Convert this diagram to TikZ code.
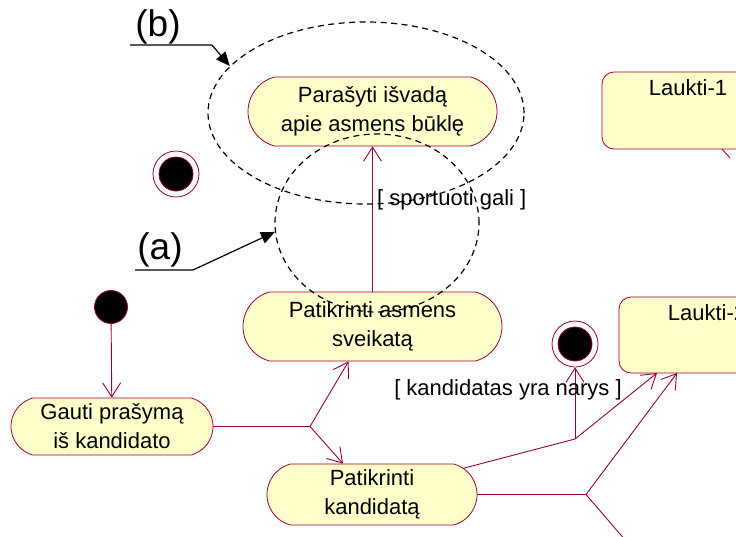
\documentclass[tikz,border=0pt]{standalone}
\usepackage{fontspec}
\setmainfont{Liberation Sans}
\usetikzlibrary{shapes.misc,shapes.geometric,arrows.meta}
\definecolor{rose}{RGB}{153,0,51}
\definecolor{actfill}{RGB}{255,255,204}

\begin{document}
\begin{tikzpicture}[x=1pt,y=-1pt,
  activity/.style={rounded rectangle, rounded rectangle arc length=150,
    draw=rose, fill=actfill, line width=0.8pt, align=center, inner sep=0pt,
    font=\fontsize{22}{29}\selectfont},
  waitbox/.style={draw=rose, fill=actfill, rounded corners=12pt, line width=0.8pt},
  startdot/.style={circle, draw=rose, fill=black, line width=0.8pt, inner sep=0pt, minimum size=33pt},
  endring/.style={circle, draw=rose, fill=white, line width=0.8pt, inner sep=0pt, minimum size=46pt},
  enddot/.style={circle, draw=rose, fill=black, line width=0.8pt, inner sep=0pt, minimum size=34pt},
  flow/.style={draw=rose, line width=0.9pt},
  flowarrow/.style={flow, -{Straight Barb[length=14pt,width=18pt]}},
  guard/.style={font=\fontsize{22}{26}\selectfont, inner sep=0pt},
  waitlabel/.style={font=\fontsize{22}{26}\selectfont, inner sep=0pt},
  zone/.style={ellipse, draw=black, dash pattern=on 6pt off 4.5pt, line width=1.2pt, inner sep=0pt},
  callout/.style={draw=black, line width=1.2pt, -{Triangle[length=14pt,width=12pt]}},
  tag/.style={font=\fontsize{37}{40}\selectfont, inner sep=0pt},
]
\clip (0,0) rectangle (736,536);
\fill[white] (0,0) rectangle (736,536);

% waiting states at the right edge
\draw[waitbox] (602,72) rectangle (775,149);
\node[waitlabel] (l1) at (688,88) {Laukti-1};
\coordinate (l1sw) at (602,149);
\draw[waitbox] (619,297) rectangle (795,373);
\node[waitlabel] (l2) at (707,313) {Laukti-2};
\coordinate (l2sw) at (619,373);

% activities
\node[activity, minimum width=249pt, minimum height=69pt] (p1) at (372.5,111.5)
  {Parašyti išvadą\\apie asmens būklę};
\node[activity, minimum width=259pt, minimum height=69pt] (p2) at (372.5,326.5)
  {Patikrinti asmens\\sveikatą};
\node[activity, minimum width=202pt, minimum height=57pt] (gauti) at (112,426.5)
  {Gauti prašymą\\iš kandidato};
\node[activity, minimum width=210pt, minimum height=61pt] (kand) at (372,494.5)
  {Patikrinti\\kandidatą};

% start and end states
\node[startdot] (init) at (111,307) {};
\node[endring] (fin1) at (176,174) {};
\node[enddot] at (fin1) {};
\node[endring] (fin2) at (575,344) {};
\node[enddot] at (fin2) {};

% junction points of the forks
\coordinate (j1) at (310,426.5);
\coordinate (j2) at (575,439);
\coordinate (j3) at (586,494.5);
\coordinate (out3) at (626,541);
\coordinate (stub) at (730,158);

% transitions
\draw[flowarrow] (init) -- (gauti);
\draw[flow] (gauti.east) -- (j1);
\draw[flowarrow] (j1) -- ([xshift=-24pt]p2.south);
\draw[flowarrow] (j1) -- ([xshift=-29pt]kand.north);
\draw[flowarrow] (p2.north) -- (p1.south);
\node[guard, anchor=west] (g1) at (377,200) {[ sportuoti gali ]};
\draw[flow] (kand.16) -- (j2);
\draw[flowarrow] (j2) -- (fin2.south);
\draw[flowarrow] (j2) -- ([xshift=38pt]l2sw);
\node[guard] (g2) at (508,390) {[ kandidatas yra narys ]};
\draw[flow] (kand.east) -- (j3);
\draw[flowarrow] (j3) -- ([xshift=58pt]l2sw);
\draw[flow] (j3) -- (out3);
\draw[flow] ([xshift=120pt]l1sw) -- (stub);

% dashed regions and their callouts
\node[zone, minimum width=316pt, minimum height=182pt] (zoneb) at (366,113) {};
\node[zone, minimum width=204pt, minimum height=178pt] (zonea) at (377,223) {};
\node[tag] (tb) at (158,27) {(b)};
\node[tag] (ta) at (160,250) {(a)};
\coordinate (cb0) at (130,45);
\coordinate (cb1) at (212,45);
\coordinate (ca0) at (135,270);
\coordinate (ca1) at (193,270);
\draw[callout] (cb0) -- (cb1) -- (zoneb.161);
\draw[callout] (ca0) -- (ca1) -- (zonea.185);
\end{tikzpicture}
\end{document}
